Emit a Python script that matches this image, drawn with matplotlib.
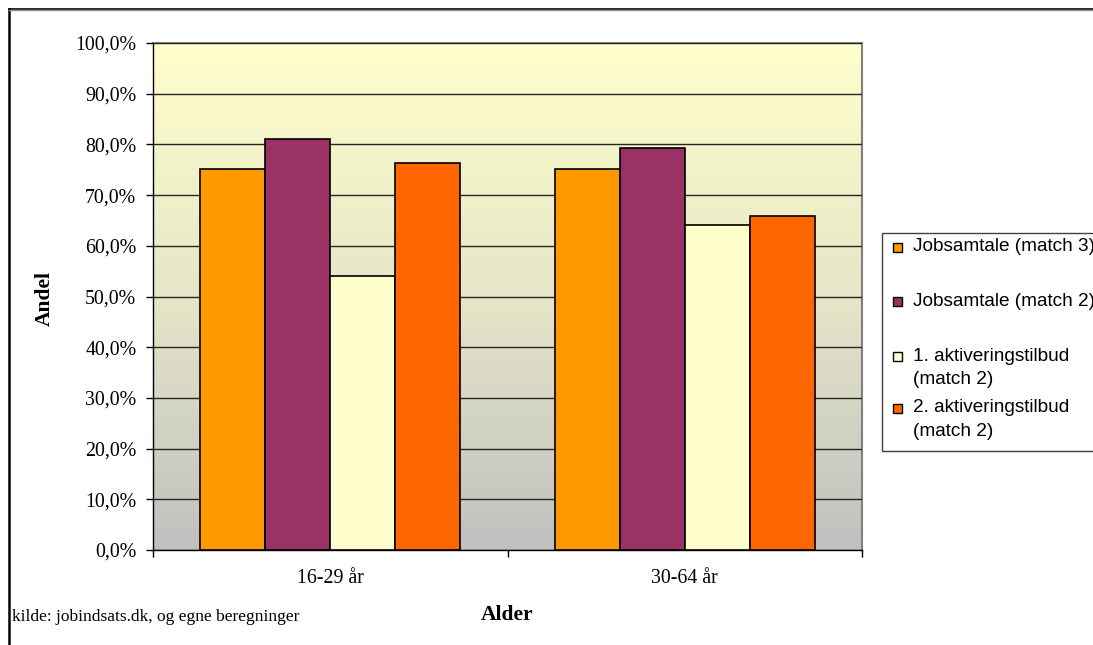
"""
Andel fordelt paa alder - grouped bar chart (Excel style)
"""

import numpy as np
import matplotlib.pyplot as plt
from matplotlib.patches import Rectangle
from matplotlib.lines import Line2D
from matplotlib.colors import LinearSegmentedColormap
from matplotlib.ticker import FuncFormatter, MultipleLocator

# data
age_groups = ["16-29 år", "30-64 år"]
series_labels = [
    "Jobsamtale (match 3)",
    "Jobsamtale (match 2)",
    "1. aktiveringstilbud\n(match 2)",
    "2. aktiveringstilbud\n(match 2)",
]
jobsamtale_m3 = [75.1, 75.1]
jobsamtale_m2 = [81.0, 79.3]
aktivering1_m2 = [54.1, 64.2]
aktivering2_m2 = [76.3, 65.9]
series_values = [jobsamtale_m3, jobsamtale_m2, aktivering1_m2, aktivering2_m2]
series_colors = ["#FF9900", "#993366", "#FFFFCC", "#FF6600"]

W, H, DPI = 1093, 645, 100
SERIF = ["Liberation Serif", "DejaVu Serif"]
SANS = ["Liberation Sans", "DejaVu Sans"]

fig = plt.figure(figsize=(W / DPI, H / DPI), dpi=DPI)
fig.patch.set_facecolor("white")


def fx(px):
    return px / W


def fy(py):
    return 1 - py / H


# plot area: 153..862 px horizontally, 43..550 px vertically
ax = fig.add_axes([fx(153), fy(550), fx(862) - fx(153), fy(43) - fy(550)])

# gradient background (light yellow -> silver)
cmap = LinearSegmentedColormap.from_list("bg", ["#C0C0C0", "#E6E6C8", "#FFFFCC"])
grad = np.linspace(0, 1, 256).reshape(-1, 1)
ax.imshow(grad, cmap=cmap, aspect="auto", origin="lower",
          extent=[-0.5, 1.5, 0, 100], zorder=0)

x = np.arange(len(age_groups))
n = len(series_values)
width = 0.1835
for i, (vals, col) in enumerate(zip(series_values, series_colors)):
    offset = (i - (n - 1) / 2) * width
    ax.bar(x + offset, vals, width, color=col, edgecolor="black",
           linewidth=1.2, zorder=3)

ax.set_xlim(-0.5, 1.5)
ax.set_ylim(0, 100)

# gridlines
ax.yaxis.set_major_locator(MultipleLocator(10))
ax.yaxis.grid(True, color="#262626", linewidth=1.0, zorder=1)
ax.set_axisbelow(False)
for gl in ax.get_ygridlines():
    gl.set_zorder(1)

ax.yaxis.set_major_formatter(FuncFormatter(lambda v, p: f"{v:.1f}%".replace(".", ",")))
ax.tick_params(axis="y", direction="out", length=5, width=1, pad=7,
               labelsize=14.3, color="black")
for lab in ax.get_yticklabels():
    lab.set_fontfamily(SERIF)

# x ticks at category borders, labels at centres
ax.set_xticks([-0.5, 0.5, 1.5])
ax.set_xticklabels(["", "", ""])
ax.tick_params(axis="x", which="major", direction="out", length=5, width=1)
ax.set_xticks(x, minor=True)
ax.set_xticklabels(age_groups, minor=True, fontsize=14.3, family=SERIF)
ax.tick_params(axis="x", which="minor", length=0, pad=13.5)

for side in ["top", "right"]:
    ax.spines[side].set_color("#808080")
    ax.spines[side].set_linewidth(1.5)
for side in ["left", "bottom"]:
    ax.spines[side].set_color("black")
    ax.spines[side].set_linewidth(1.0)

# axis titles
fig.text(fx(45), fy(299), "Andel", rotation=90, ha="center", va="center",
         fontsize=15.5, fontweight="bold", family=SERIF)
fig.text(fx(507), fy(615), "Alder", ha="center", va="center",
         fontsize=15.5, fontweight="bold", family=SERIF)
fig.text(fx(12), fy(617), "kilde: jobindsats.dk, og egne beregninger",
         ha="left", va="center", fontsize=12.5, family=SERIF)

# legend, drawn by hand to keep the Excel spacing
fig.patches.append(Rectangle((fx(882), fy(451)), fx(1200) - fx(882), fy(233) - fy(451),
                             transform=fig.transFigure, facecolor="white",
                             edgecolor="#404040", linewidth=1.0, zorder=5))
row_y = [247, 301, 356, 408]
line_h = 23
for lab, col, ry in zip(series_labels, series_colors, row_y):
    fig.patches.append(Rectangle((fx(893), fy(ry + 4.5)), fx(9), fy(0) - fy(9),
                                 transform=fig.transFigure, facecolor=col,
                                 edgecolor="black", linewidth=1.0, zorder=6))
    for k, line in enumerate(lab.split("\n")):
        fig.text(fx(913), fy(ry + k * line_h), line, ha="left", va="center",
                 fontsize=13.7, family=SANS, zorder=7)

# outer frame of the chart object (cut off right and bottom)
fig.lines.append(Line2D([fx(9), fx(9)], [fy(9), fy(700)], transform=fig.transFigure,
                        color="black", linewidth=1.8))
fig.lines.append(Line2D([fx(9), fx(1200)], [fy(8.8), fy(8.8)], transform=fig.transFigure,
                        color="black", linewidth=1.2))
fig.lines.append(Line2D([fx(9), fx(1200)], [fy(10.3), fy(10.3)], transform=fig.transFigure,
                        color="#909090", linewidth=1.0))

fig.savefig("out.png", dpi=DPI)
